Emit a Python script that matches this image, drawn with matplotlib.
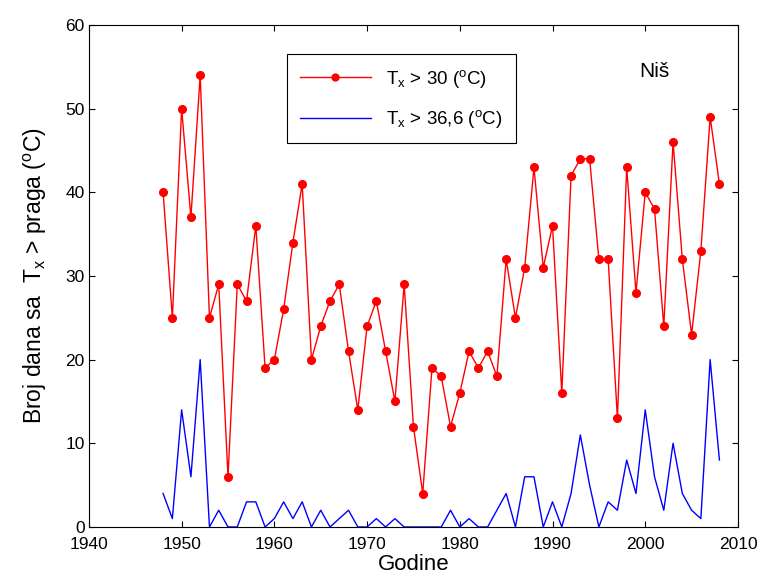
import matplotlib
matplotlib.use("Agg")
import matplotlib.pyplot as plt
import numpy as np

plt.rcParams["font.family"] = ["Liberation Sans", "DejaVu Sans"]
plt.rcParams["mathtext.fontset"] = "custom"
plt.rcParams["mathtext.rm"] = "Liberation Sans"
plt.rcParams["mathtext.it"] = "Liberation Sans"

years = np.arange(1948, 2009)
tx30 = [40, 25, 50, 37, 54, 25, 29, 6, 29, 27, 36, 19, 20, 26, 34, 41, 20, 24, 27, 29,
        21, 14, 24, 27, 21, 15, 29, 12, 4, 19, 18, 12, 16, 21, 19, 21, 18, 32, 25, 31,
        43, 31, 36, 16, 42, 44, 44, 32, 32, 13, 43, 28, 40, 38, 24, 46, 32, 23, 33, 49, 41]
tx366 = [4, 1, 14, 6, 20, 0, 2, 0, 0, 3, 3, 0, 1, 3, 1, 3, 0, 2, 0, 1,
         2, 0, 0, 1, 0, 1, 0, 0, 0, 0, 0, 2, 0, 1, 0, 0, 2, 4, 0, 6,
         6, 0, 3, 0, 4, 11, 5, 0, 3, 2, 8, 4, 14, 6, 2, 10, 4, 2, 1, 20, 8]

fig = plt.figure(figsize=(7.6, 5.81), dpi=100)
ax = fig.add_axes([0.117, 0.093, 0.854, 0.864])

ax.plot(years, tx30, color="red", lw=1, marker="o", markersize=5.5,
        label=r"T$_\mathrm{x}$ > 30 ($^\mathrm{o}$C)")
ax.plot(years, tx366, color="blue", lw=1,
        label=r"T$_\mathrm{x}$ > 36,6 ($^\mathrm{o}$C)")

ax.set_xlim(1940, 2010)
ax.set_ylim(0, 60)
ax.set_xticks(range(1940, 2011, 10))
ax.set_yticks(range(0, 61, 10))
ax.tick_params(direction="in", top=True, right=True, labelsize=12.5, length=4, pad=3)
ax.tick_params(axis="x", pad=7)
for s in ax.spines.values():
    s.set_linewidth(0.8)

ax.set_xlabel("Godine", fontsize=16, labelpad=2)
ax.set_ylabel(r"Broj dana sa  T$_\mathrm{x}$ > praga ($^\mathrm{o}$C)", fontsize=16.5, labelpad=12)
ax.text(2001, 54.4, "Niš", fontsize=15, ha="center", va="center")

leg = ax.legend(loc="upper left", bbox_to_anchor=(0.29, 0.96), fancybox=False,
                edgecolor="black", fontsize=13.5, handlelength=3.8, borderpad=0.7,
                labelspacing=1.0, framealpha=1, markerscale=0.9)
leg.get_frame().set_linewidth(0.8)

fig.savefig("out.png", dpi=100)
